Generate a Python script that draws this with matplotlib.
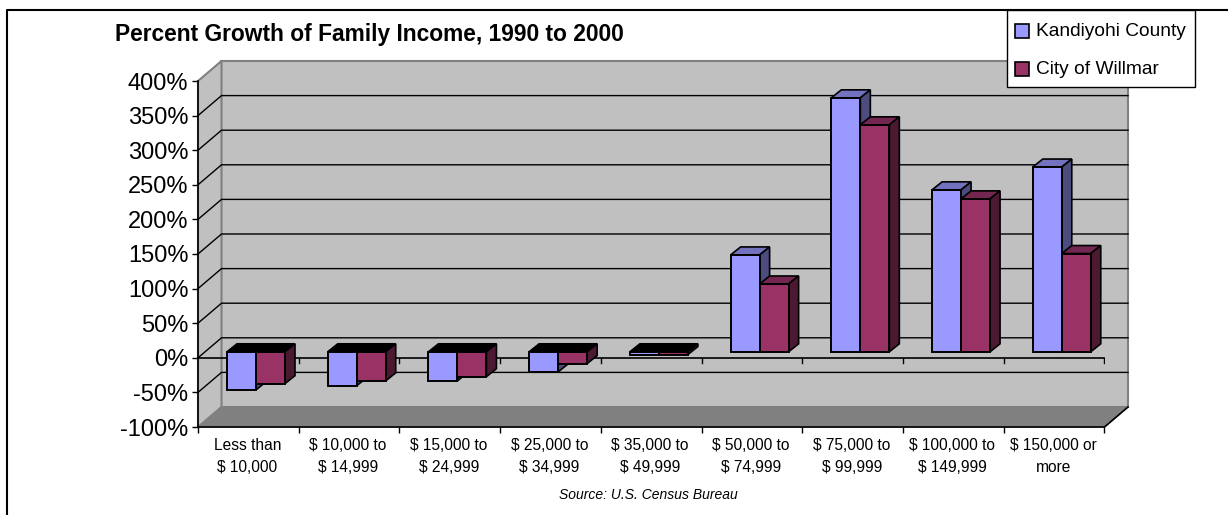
import matplotlib
matplotlib.use('Agg')
import matplotlib.pyplot as plt
from matplotlib.patches import Polygon, Rectangle

categories = ['Less than\n$ 10,000', '$ 10,000 to\n$ 14,999', '$ 15,000 to\n$ 24,999',
              '$ 25,000 to\n$ 34,999', '$ 35,000 to\n$ 49,999', '$ 50,000 to\n$ 74,999',
              '$ 75,000 to\n$ 99,999', '$ 100,000 to\n$ 149,999', '$ 150,000 or\nmore']
kandiyohi = [-55, -49, -42, -29, -5, 140, 367, 234, 267]
willmar = [-46, -42, -36, -17, -4, 98, 328, 221, 142]
y_ticks = [-100, -50, 0, 50, 100, 150, 200, 250, 300, 350, 400]

W, H = 1228, 515
plt.rcParams['font.family'] = ['Liberation Sans', 'DejaVu Sans']

fig = plt.figure(figsize=(W / 100, H / 100), dpi=100)
# front plane of the 3d box, in pixels
x0, x1, y_top, y_bot = 198, 1104.5, 81, 427
ax = fig.add_axes([x0 / W, 1 - y_bot / H, (x1 - x0) / W, (y_bot - y_top) / H])
ax.set_xlim(0, 9)
ax.set_ylim(-100, 400)
ax.patch.set_alpha(0)
for s in ax.spines.values():
    s.set_visible(False)

px_x = 9 / (x1 - x0)
px_y = 500 / (y_bot - y_top)
DX, DY = 23.5 * px_x, 20 * px_y  # depth of the box


def poly(pts, fc, ec='k', lw=1.2, z=2):
    ax.add_patch(Polygon(pts, closed=True, fc=fc, ec=ec, lw=lw, zorder=z, clip_on=False))


# walls and floor
poly([(DX, -100 + DY), (9 + DX, -100 + DY), (9 + DX, 400 + DY), (DX, 400 + DY)], '#c0c0c0', '#808080', 1.5, 1)
poly([(0, -100), (DX, -100 + DY), (DX, 400 + DY), (0, 400)], '#c0c0c0', '#808080', 1.5, 1)
poly([(0, -100), (9, -100), (9 + DX, -100 + DY), (DX, -100 + DY)], '#808080', '#808080', 1, 1.1)

for v in y_ticks[1:-1]:
    ax.plot([0, DX, 9 + DX], [v, v + DY, v + DY], c='k', lw=1, zorder=1.5, clip_on=False)
ax.plot([0, 9, 9 + DX], [-100, -100, -100 + DY], c='k', lw=1.2, zorder=1.6, clip_on=False)
ax.plot([0, 0], [-100, 400], c='k', lw=1.2, zorder=1.6, clip_on=False)
ax.plot([0, 9], [0, 0], c='k', lw=1.2, zorder=1.6, clip_on=False)
for i in range(1, 10):
    ax.plot([i, i], [0, -7], c='k', lw=1, zorder=1.6)

# bars sit in the middle of the depth
ox, oy = 6 * px_x, 6 * px_y
dx, dy = 10 * px_x, 8 * px_y
bar_w = 29 * px_x
left = 29 * px_x


def bar3d(xl, v, front, top, side):
    xr = xl + bar_w
    lo, hi = min(v, 0), max(v, 0)
    poly([(xl + ox, hi + oy), (xl + ox + dx, hi + oy + dy), (xr + ox + dx, hi + oy + dy), (xr + ox, hi + oy)], top)
    poly([(xr + ox, lo + oy), (xr + ox + dx, lo + oy + dy), (xr + ox + dx, hi + oy + dy), (xr + ox, hi + oy)], side)
    ax.bar(xl + ox, hi - lo, bottom=lo + oy, width=bar_w, align='edge', color=front, ec='k', lw=1.4,
           zorder=2, clip_on=False)


for i in range(9):
    for off, v, cols in [(0, kandiyohi[i], ('#9999ff', '#7272bf', '#4c4c7f')),
                         (bar_w, willmar[i], ('#993366', '#722650', '#4c1933'))]:
        # top face of a negative bar is black in the source
        front, top, side = cols
        if v < 0:
            top = 'k'
        bar3d(i + left - ox + off, v, front, top, side)

ax.set_yticks(y_ticks)
ax.set_yticklabels(['%d%%' % v for v in y_ticks], fontsize=17)
ax.tick_params(axis='y', length=4, width=1, pad=3)
ax.set_xticks(range(10))
ax.set_xticklabels([])
ax.tick_params(axis='x', length=4, width=1)
for i, c in enumerate(categories):
    ax.text(i + 0.49, -100 - 11 * px_y, c, ha='center', va='top', fontsize=11.2, linespacing=1.62)

fig.text(115 / W, 1 - 35 / H, 'Percent Growth of Family Income, 1990 to 2000', fontsize=16.4,
         fontweight='bold', va='center', ha='left')
fig.text(648 / W, 1 - 495 / H, 'Source: U.S. Census Bureau', fontsize=10, style='italic',
         va='center', ha='center')

# outer frame
fig.add_artist(plt.Line2D([7 / W, 7 / W, 1], [0, 1 - 10 / H, 1 - 10 / H], color='k', lw=1.5))

# legend box
fig.add_artist(Rectangle((1007 / W, 1 - 87 / H), 188 / W, 77 / H, fc='w', ec='k', lw=1,
                         transform=fig.transFigure, zorder=5))
for yy, c, name in [(31, '#9999ff', 'Kandiyohi County'), (69, '#993366', 'City of Willmar')]:
    fig.add_artist(Rectangle((1015 / W, 1 - (yy + 7) / H), 14 / W, 14 / H, fc=c, ec='k', lw=1.2,
                             transform=fig.transFigure, zorder=6))
    fig.text(1036 / W, 1 - yy / H, name, fontsize=13.8, va='center', ha='left', zorder=6)

fig.savefig('out.png', dpi=100)
